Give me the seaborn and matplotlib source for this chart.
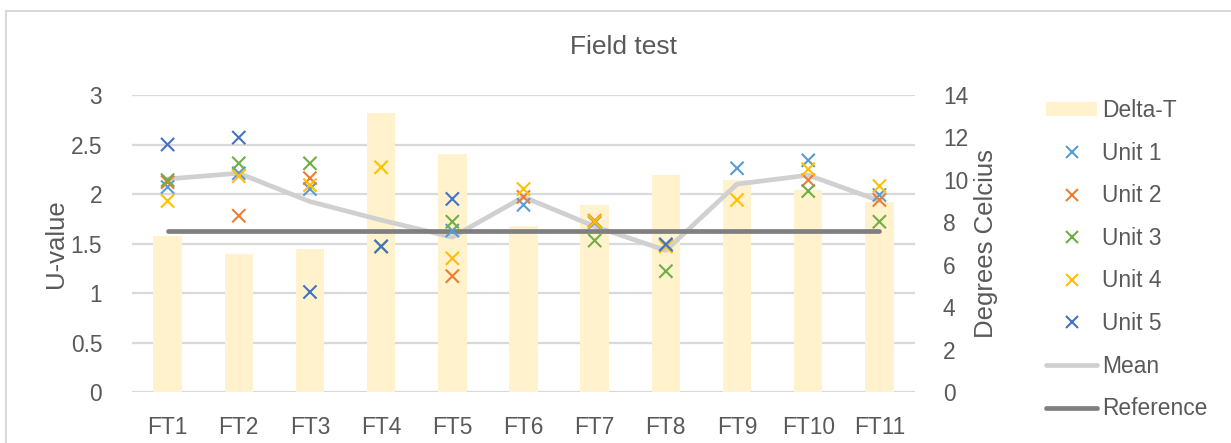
import numpy as np
import pandas as pd
import matplotlib
matplotlib.use('Agg')
import matplotlib.pyplot as plt
import seaborn as sns
from matplotlib.patches import Patch, Rectangle
from matplotlib.lines import Line2D

# ── Data ───────────────────────────────────────────────────────────────────
categories = ['FT1', 'FT2', 'FT3', 'FT4', 'FT5', 'FT6',
              'FT7', 'FT8', 'FT9', 'FT10', 'FT11']
delta_t = [7.34, 6.49, 6.73, 13.14, 11.2, 7.81, 8.80, 10.24, 9.98, 9.51, 8.96]

nan = np.nan
unit1 = [2.07, 2.21, 2.05, nan, 1.63, 1.89, 1.71, 1.49, 2.26, 2.34, 1.99]
unit2 = [2.12, 1.78, 2.16, nan, 1.17, 1.97, 1.73, 1.48, nan, 2.14, 1.94]
unit3 = [2.14, 2.31, 2.31, 1.47, 1.72, nan, 1.53, 1.22, nan, 2.03, 1.72]
unit4 = [1.93, 2.18, 2.09, 2.27, 1.35, 2.05, 1.72, 1.47, 1.94, 2.25, 2.08]
unit5 = [2.50, 2.57, 1.01, 1.47, 1.95, nan, nan, 1.49, nan, nan, nan]
reference = [1.63] * len(categories)

unit_names  = ['Unit 1', 'Unit 2', 'Unit 3', 'Unit 4', 'Unit 5']
unit_colors = ['#5B9BD5', '#ED7D31', '#70AD47', '#FFC000', '#4472C4']

# ── Styling ────────────────────────────────────────────────────────────────
sns.set_theme(style='white')
plt.rcParams['font.family'] = ['Liberation Sans', 'DejaVu Sans']
TXT    = '#595959'
GRID   = '#D9D9D9'
BAR    = '#FFF2CC'
MEAN_C = '#D0D0D0'
REF_C  = '#7F7F7F'

pos = np.arange(len(categories))
units = pd.DataFrame({
    'pos' : np.tile(pos, len(unit_names)),
    'unit': np.repeat(unit_names, len(categories)),
    'u'   : np.concatenate([unit1, unit2, unit3, unit4, unit5]),
}).dropna()
mean_u = units.groupby('pos')['u'].mean().reindex(pos)
bars   = pd.DataFrame({'cat': categories, 'dt': delta_t})

# ── Figure / axes ──────────────────────────────────────────────────────────
W, H = 1231, 443
fig = plt.figure(figsize=(W / 100, H / 100), dpi=100)
ax_grid = fig.add_axes([132 / W, 1 - 392 / H, (915 - 132) / W, (392 - 95) / H])
ax_bar  = ax_grid.twinx()
ax      = ax_grid.twinx()
ax_grid.set_zorder(0); ax_bar.set_zorder(1); ax.set_zorder(2)
ax_bar.patch.set_visible(False); ax.patch.set_visible(False)

# grid layer (behind bars)
ax_grid.set_ylim(0, 3)
ax_grid.set_yticks(np.arange(0, 3.01, 0.5))
ax_grid.yaxis.grid(True, color=GRID, lw=1.6)
ax_grid.tick_params(axis='y', left=False, right=False,
                    labelleft=False, labelright=False)

# Delta-T bars (right axis)
sns.barplot(data=bars, x='cat', y='dt', ax=ax_bar, color=BAR, width=0.4,
            saturation=1, edgecolor='none')
ax_bar.set_ylim(0, 14)
ax_bar.set_yticks(np.arange(0, 15, 2))
ax_bar.yaxis.tick_right()
ax_bar.set_xlabel(''); ax_bar.set_ylabel('')

# mean + reference lines, unit markers (left axis)
sns.lineplot(x=pos, y=mean_u.values, ax=ax, color=MEAN_C, lw=3.4,
             solid_capstyle='round', zorder=2)
sns.lineplot(x=pos, y=reference, ax=ax, color=REF_C, lw=3.4,
             solid_capstyle='round', zorder=2)
sns.scatterplot(data=units, x='pos', y='u', hue='unit', hue_order=unit_names,
                palette=unit_colors, marker='x', s=90, linewidth=1.5,
                ax=ax, legend=False, zorder=3)
ax.set_ylim(0, 3)
ax.set_yticks(np.arange(0, 3.01, 0.5))
ax.set_yticklabels(['0', '0.5', '1', '1.5', '2', '2.5', '3'])
ax.yaxis.tick_left()
ax.set_xlabel(''); ax.set_ylabel('')

for a in (ax_grid, ax_bar, ax):
    a.set_xlim(-0.5, len(categories) - 0.5)
    for s in a.spines.values():
        s.set_visible(False)

ax_grid.set_xticks(pos)
ax_grid.set_xticklabels(categories)
ax_grid.tick_params(axis='x', bottom=False, labelbottom=True, labelsize=16.4,
                    labelcolor=TXT, pad=11)
ax_bar.tick_params(axis='y', right=False, labelright=True, labelsize=16.4,
                   labelcolor=TXT, pad=14)
ax.tick_params(axis='y', left=False, labelleft=True, labelright=False,
               labelsize=16.4, labelcolor=TXT, pad=15.5)

# ── Text ───────────────────────────────────────────────────────────────────
fig.text(623.5 / W, 1 - 47 / H, 'Field test', ha='center', va='center',
         fontsize=19, color=TXT)
fig.text(56 / W, 1 - 244 / H, 'U-value', ha='center', va='center',
         rotation=90, fontsize=18.5, color=TXT)
fig.text(986 / W, 1 - 243 / H, 'Degrees Celcius', ha='center', va='center',
         rotation=90, fontsize=18.5, color=TXT)

# ── Legend ─────────────────────────────────────────────────────────────────
handles = [Patch(facecolor=BAR, edgecolor='none', label='Delta-T')]
for name, c in zip(unit_names, unit_colors):
    handles.append(Line2D([], [], ls='none', marker='x', color=c, ms=9,
                          mew=1.5, label=name))
handles.append(Line2D([], [], color=MEAN_C, lw=3.4, solid_capstyle='round',
                      label='Mean'))
handles.append(Line2D([], [], color=REF_C, lw=3.4, solid_capstyle='round',
                      label='Reference'))
fig.legend(handles=handles, loc='upper left',
           bbox_to_anchor=(1046 / W, 1 - 99 / H), frameon=False,
           fontsize=16.4, labelcolor=TXT, borderpad=0, borderaxespad=0,
           handlelength=2.25, handleheight=0.55, handletextpad=0.2,
           labelspacing=0.86)

# chart border (cropped on right and bottom)
fig.add_artist(Rectangle((6 / W, -0.1), 1.2, 1 - 11 / H + 0.1,
                         transform=fig.transFigure, fill=False,
                         edgecolor=GRID, lw=1.5, clip_on=False))

fig.savefig('out.png', dpi=100)
plt.close(fig)
